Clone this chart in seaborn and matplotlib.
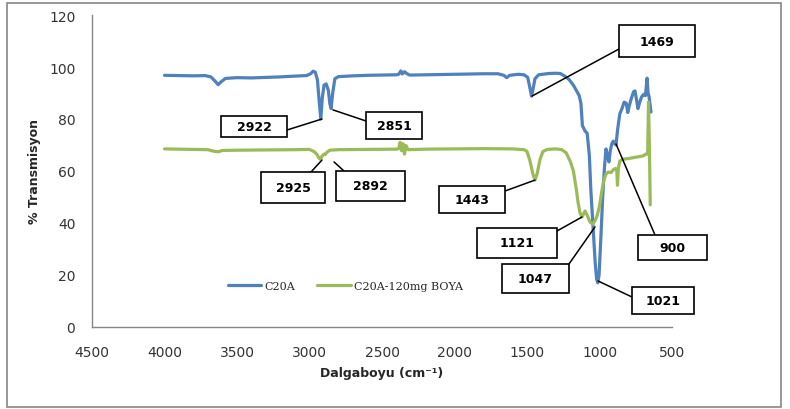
import matplotlib
matplotlib.use("Agg")
import matplotlib.pyplot as plt
from matplotlib.patches import Rectangle
from matplotlib.lines import Line2D
import seaborn as sns
import pandas as pd

# ---- data ----
series_names = ["C20A", "C20A-120mg BOYA"]

c20a_wn = [4000, 3900, 3800, 3720, 3680, 3650, 3630, 3610, 3580, 3500, 3400, 3300, 3200, 3100,
           3020, 2990, 2975, 2960, 2945, 2935, 2922, 2912, 2900, 2885, 2870, 2860, 2851, 2840,
           2825, 2800, 2700, 2600, 2500, 2400, 2385, 2370, 2360, 2345, 2330, 2310, 2200, 2100,
           2000, 1900, 1800, 1700, 1660, 1640, 1620, 1560, 1520, 1495, 1480, 1469, 1460, 1445,
           1420, 1350, 1300, 1270, 1240, 1210, 1180, 1160, 1140, 1128, 1118, 1100, 1085, 1070,
           1060, 1045, 1030, 1020, 1012, 1003, 990, 978, 965, 955, 945, 935, 925, 915, 905, 895,
           886, 875, 860, 845, 830, 815, 805, 795, 780, 765, 755, 745, 735, 725, 710, 695, 683,
           672, 665, 658, 650, 645]
c20a_t = [96.8, 96.7, 96.6, 96.7, 96.2, 94.5, 93.2, 94.3, 95.6, 95.9, 95.8, 96.0, 96.2, 96.5,
          96.7, 97.5, 98.4, 98.0, 95.0, 88.0, 80.0, 88.0, 93.0, 93.5, 91.0, 86.0, 84.0, 90.0,
          95.5, 96.3, 96.6, 96.8, 96.9, 97.0, 97.2, 98.5, 97.3, 98.2, 97.5, 96.9, 97.0, 97.1,
          97.2, 97.3, 97.4, 97.4, 96.8, 95.9, 96.8, 97.2, 97.0, 96.0, 92.0, 88.8, 91.0, 95.5,
          97.0, 97.5, 97.6, 97.5, 96.5, 95.2, 93.0, 91.0, 89.0, 86.0, 77.5, 75.4, 74.5, 66.0,
          53.0, 39.0, 25.0, 18.5, 17.0, 20.0, 35.0, 50.0, 62.0, 68.5, 66.0, 63.5, 68.0, 70.5,
          71.5, 70.5, 70.0, 76.0, 82.0, 84.0, 86.5, 86.0, 82.5, 85.0, 88.0, 90.5, 90.8, 87.5,
          84.0, 86.0, 88.5, 89.5, 89.0, 95.7, 90.0, 88.5, 85.0, 82.7]

boya_wn = [4000, 3900, 3800, 3700, 3660, 3630, 3600, 3500, 3300, 3100, 3000, 2970, 2950, 2935,
           2925, 2912, 2900, 2892, 2880, 2860, 2800, 2600, 2400, 2385, 2375, 2365, 2355, 2345,
           2335, 2320, 2200, 2000, 1800, 1600, 1520, 1500, 1480, 1460, 1445, 1430, 1410, 1390,
           1360, 1300, 1260, 1230, 1200, 1180, 1160, 1148, 1135, 1121, 1110, 1100, 1085, 1066,
           1047, 1030, 1017, 1000, 985, 970, 955, 940, 920, 905, 890, 881, 876, 870, 860, 840,
           800, 760, 730, 700, 680, 668, 662, 656, 650]
boya_t = [68.5, 68.4, 68.3, 68.2, 67.6, 67.4, 67.9, 68.0, 68.1, 68.2, 68.3, 67.5, 66.5, 65.0,
          64.5, 65.8, 66.5, 66.3, 67.2, 68.0, 68.2, 68.3, 68.4, 68.6, 71.0, 67.8, 70.5, 66.5,
          69.8, 68.2, 68.4, 68.5, 68.6, 68.5, 68.2, 67.5, 64.0, 59.0, 56.5, 59.0, 64.5, 67.5,
          68.3, 68.5, 68.2, 67.0, 63.5, 60.0, 53.0, 48.0, 44.0, 42.3, 43.5, 44.6, 43.0, 40.4,
          39.5, 41.0, 42.7, 46.5, 52.0, 56.5, 58.8, 59.6, 59.4, 60.5, 61.0, 60.3, 54.5, 61.0,
          63.8, 64.5, 64.8, 65.2, 65.5, 65.8, 66.5, 66.5, 86.5, 70.0, 47.0]

ann_labels = ["2922", "2851", "2925", "2892", "1469", "1443", "1121", "1047", "1021", "900"]
ann_pt_wn = [2914, 2838, 2914, 2831, 1466, 1445, 1121, 1031, 1010, 886]
ann_pt_t = [80.0, 83.5, 64.2, 63.5, 88.8, 56.5, 42.3, 38.5, 17.7, 70.4]

x_ticks = [4500, 4000, 3500, 3000, 2500, 2000, 1500, 1000, 500]
y_ticks = [0, 20, 40, 60, 80, 100, 120]

# ---- layout (pixels, top-left origin) ----
W, H = 790, 410
ann_boxes = [(221, 117, 287, 138), (366, 113, 422, 140), (261, 173, 325, 204),
             (336, 172, 405, 202), (619, 26, 695, 58), (439, 187, 505, 214),
             (477, 229, 557, 259), (502, 265, 569, 294), (632, 288, 694, 315),
             (638, 236, 707, 261)]
ann_starts = [(287, 131), (366, 122), (311, 173), (344, 172), (619, 50), (505, 192),
              (557, 232), (569, 265), (632, 298), (655, 236)]

df = pd.concat([
    pd.DataFrame({"wn": c20a_wn, "T": c20a_t, "series": series_names[0]}),
    pd.DataFrame({"wn": boya_wn, "T": boya_t, "series": series_names[1]}),
])

sns.set_style("white")
plt.rcParams["font.family"] = ["DejaVu Sans"]

fig = plt.figure(figsize=(W / 100, H / 100), dpi=100)
fig.patch.set_facecolor("white")
ax = fig.add_axes([92 / W, (H - 328) / H, 580 / W, 312 / H])

palette = {series_names[0]: "#4F81BD", series_names[1]: "#9BBB59"}
sns.lineplot(data=df, x="wn", y="T", hue="series", palette=palette, estimator=None,
             sort=False, linewidth=2.3, ax=ax, legend=False)

ax.set_xlim(4500, 500)
ax.set_ylim(0, 120)
ax.set_xticks(x_ticks)
ax.set_yticks(y_ticks)
ax.tick_params(axis="both", direction="out", length=5, width=1, color="#868686",
               labelsize=10, labelcolor="#333333")
ax.tick_params(axis="y", pad=7)
ax.tick_params(axis="x", pad=8)
for s in ["top", "right"]:
    ax.spines[s].set_visible(False)
for s in ["left", "bottom"]:
    ax.spines[s].set_color("#868686")
    ax.spines[s].set_linewidth(1)
ax.set_xlabel("Dalgaboyu (cm⁻¹)", fontsize=9, fontweight="bold", labelpad=5)
ax.set_ylabel("% Transmisyon", fontsize=9, fontweight="bold", labelpad=6)

# legend
handles = [Line2D([], [], color=palette[n], lw=2.3) for n in series_names]
leg = ax.legend(handles, series_names, loc="center", bbox_to_anchor=(0.437, 0.131),
                ncol=2, frameon=False, handlelength=3.0, handletextpad=0.3,
                columnspacing=2.0, prop={"family": "DejaVu Serif", "size": 8})

# annotations
def fx(x):
    return x / W

def fy(y):
    return 1 - y / H

for lab, pw, pt, box, st in zip(ann_labels, ann_pt_wn, ann_pt_t, ann_boxes, ann_starts):
    x0, y0, x1, y1 = box
    ax.annotate("", xy=(pw, pt), xycoords="data", xytext=(st[0], H - st[1]),
                textcoords="figure pixels",
                arrowprops=dict(arrowstyle="-", color="black", lw=1.1, shrinkA=0, shrinkB=0),
                annotation_clip=False)
    fig.patches.append(Rectangle((fx(x0), fy(y1)), (x1 - x0) / W, (y1 - y0) / H,
                                 transform=fig.transFigure, facecolor="white",
                                 edgecolor="black", lw=1.2, zorder=5))
    fig.text(fx((x0 + x1) / 2), fy((y0 + y1) / 2), lab, ha="center", va="center",
             fontsize=9, fontweight="bold", color="black", zorder=6)

# outer chart border
fig.patches.append(Rectangle((fx(7), fy(408)), (781 - 7) / W, (408 - 4) / H,
                             transform=fig.transFigure, facecolor="none",
                             edgecolor="#868686", lw=1.2))

fig.savefig("out.png", dpi=100, facecolor="white")
